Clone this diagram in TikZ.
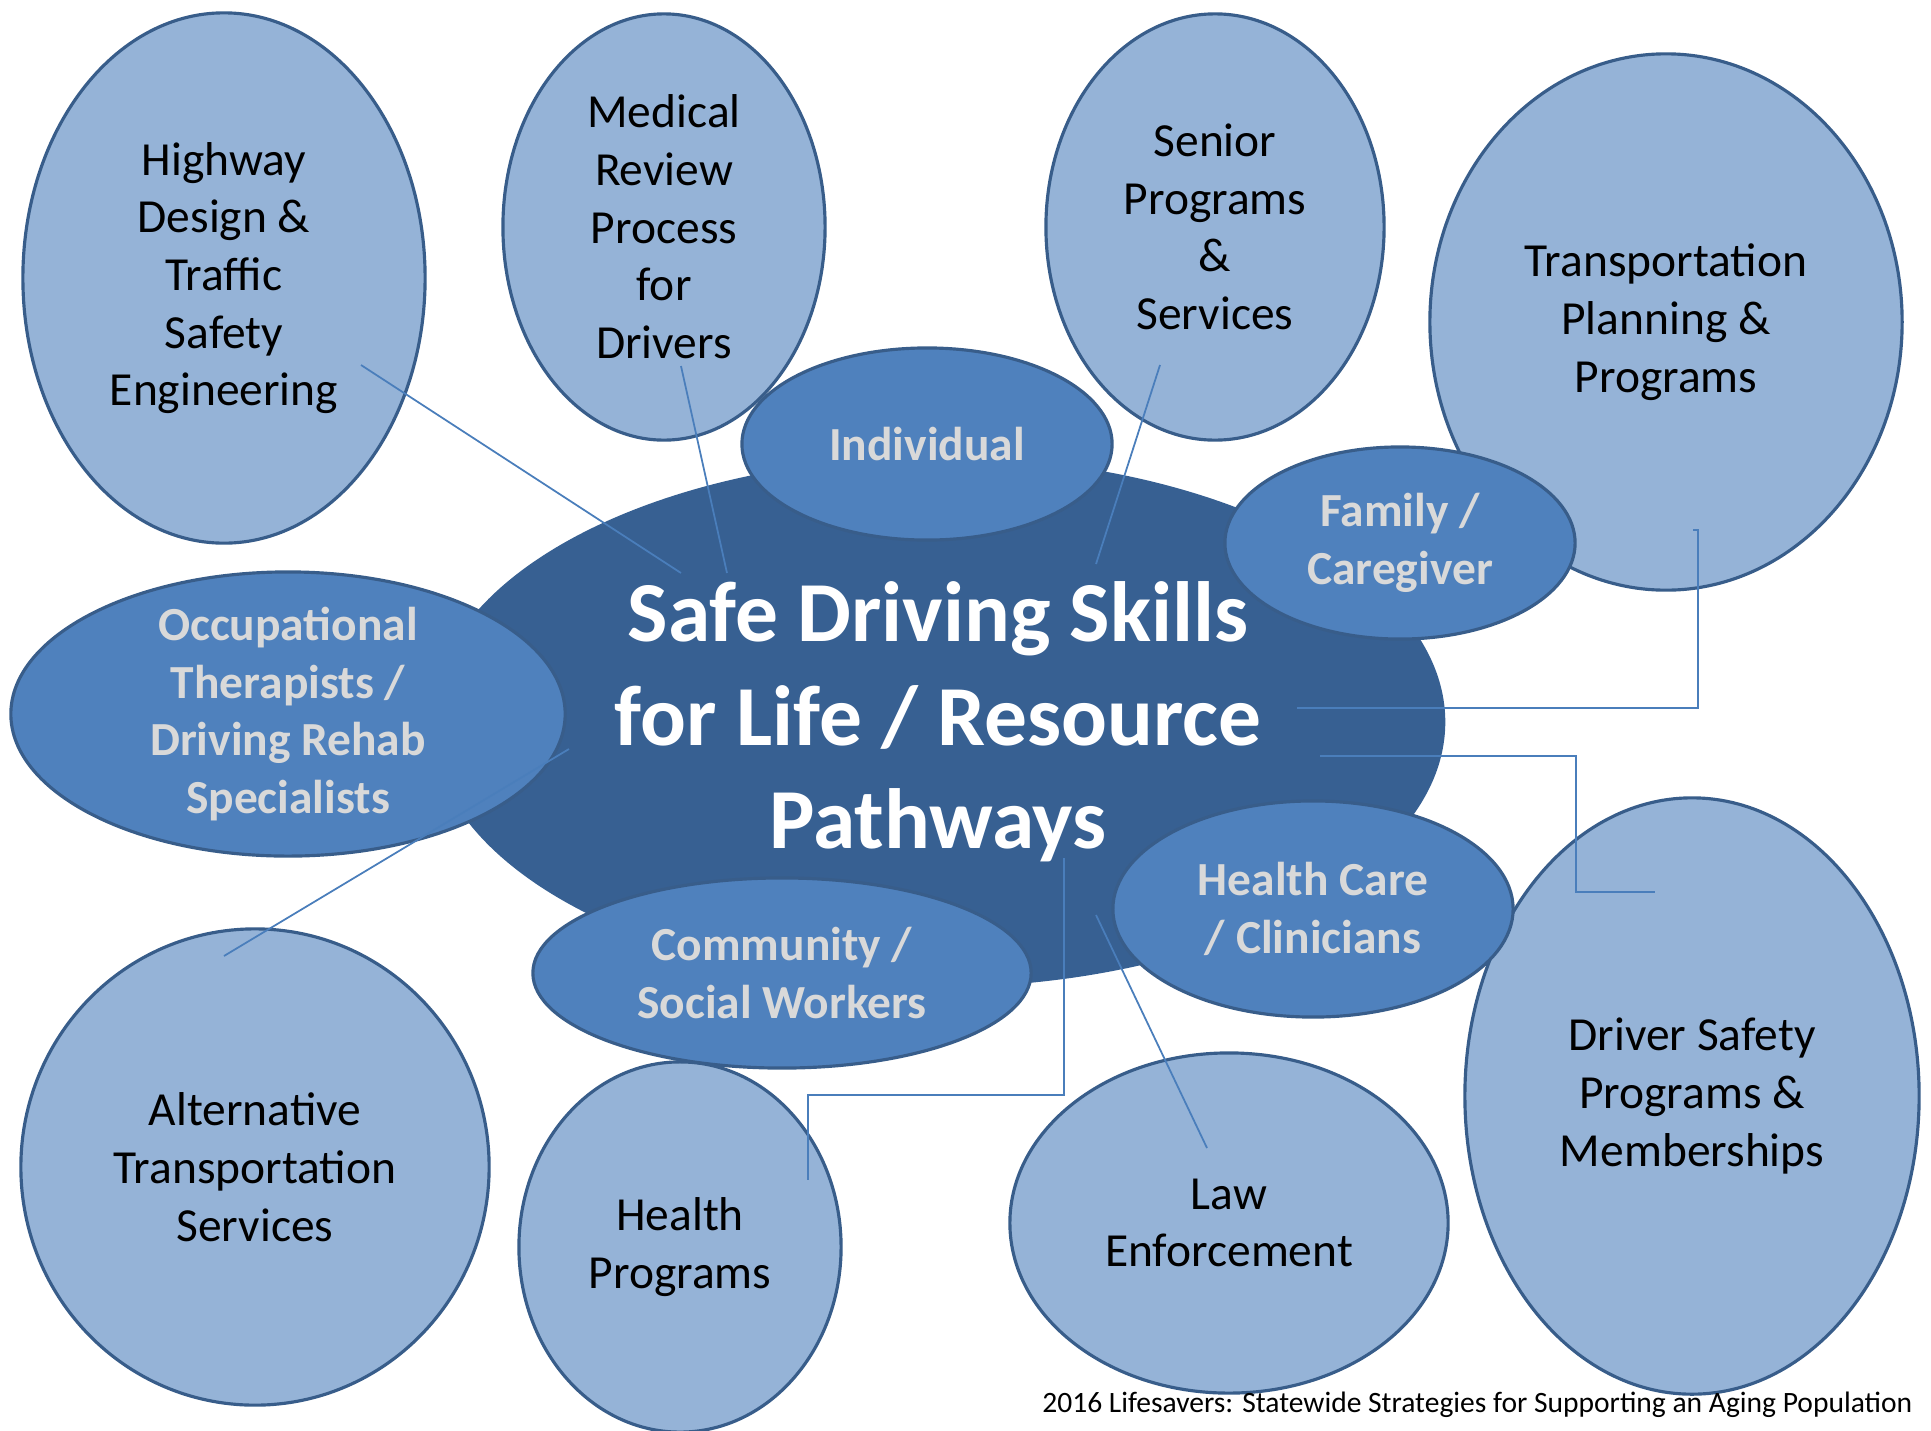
\documentclass[tikz,border=0pt]{standalone}
\usepackage{fontspec}
\setmainfont{Carlito}
\usetikzlibrary{shapes.geometric}

\definecolor{hubBlue}{HTML}{376092}
\definecolor{midBlue}{HTML}{4F81BD}
\definecolor{lineBlue}{HTML}{4A7EBB}
\definecolor{lightBlue}{HTML}{95B3D7}
\definecolor{rimBlue}{HTML}{385D8A}
\definecolor{paleGrey}{HTML}{D9D9D9}

\begin{document}
\begin{tikzpicture}
[x=0.01cm,y=-0.01cm,
  outerDecorate/.style={shape=ellipse,draw=rimBlue,fill=lightBlue,line width=0.9pt,
    inner sep=0pt,align=center,font=\fontsize{13.5}{16.4}\selectfont},
  innerDecorate/.style={shape=ellipse,draw=rimBlue,fill=midBlue,line width=0.9pt,
    inner sep=0pt,inner ysep=-4pt,align=center,text=paleGrey,
    font=\fontsize{13.5}{16.4}\selectfont\bfseries},
  hubDecorate/.style={shape=ellipse,fill=hubBlue,inner sep=0pt,align=center,
    text=white,font=\fontsize{24.3}{29.4}\selectfont\bfseries},
  lineDecorate/.style={-,draw=lineBlue,line width=0.5pt}]
\useasboundingbox (0,0) rectangle (1931,1430);
%% outer resources
\foreach \nodename/\x/\y/\w/\h/\txt in {
  hwy/224/278/4.02/5.30/{Highway\\Design \&\\Traffic\\Safety\\Engineering},
  med/664/227/3.22/4.26/{Medical\\Review\\Process\\for\\Drivers},
  sen/1215/227/3.38/4.26/{Senior\\Programs\\\&\\Services},
  trn/1666/322/4.72/5.36/{Transportation\\Planning \&\\Programs},
  alt/255/1167/4.68/4.76/{Alternative\\Transportation\\Services},
  hpr/680/1247/3.22/3.70/{Health\\Programs},
  law/1229/1223/4.38/3.40/{Law\\Enforcement},
  drv/1692/1096/4.54/5.96/{Driver Safety\\Programs \&\\Memberships}}
{
  \node (\nodename) at (\x,\y) [outerDecorate,minimum width=\w cm,minimum height=\h cm] {\txt};
}
%% hub
\node (hub) at (938,722) [hubDecorate,minimum width=10.14cm,minimum height=5.30cm]
  {Safe Driving Skills\\for Life / Resource\\Pathways};
%% groups around the hub
\foreach \nodename/\x/\y/\w/\h/\txt in {
  ind/927/444/3.70/1.92/{Individual},
  fam/1400/543/3.50/1.92/{Family /\\Caregiver},
  occ/288/714/5.54/2.84/{Occupational\\Therapists /\\Driving Rehab\\Specialists},
  hcc/1313/909/4.00/2.16/{Health Care\\/ Clinicians},
  com/782/973/4.98/1.90/{Community /\\Social Workers}}
{
  \node (\nodename) at (\x,\y) [innerDecorate,minimum width=\w cm,minimum height=\h cm] {\txt};
}
%% line ends
\foreach \ptname/\x/\y in {
  hwy-a/361/365, hwy-b/681/573,
  med-a/681/366, med-b/727/573,
  sen-a/1160/365, sen-b/1096/564,
  trn-a/1297/708, trn-b/1698/530,
  drv-a/1320/756, drv-b/1655/892,
  alt-a/569/749, alt-b/224/956,
  hpr-a/1064/858, hpr-b/808/1180,
  law-a/1096/915, law-b/1207/1148}
{
  \coordinate (\ptname) at (\x,\y);
}
\draw[lineDecorate] (hwy-a) -- (hwy-b);
\draw[lineDecorate] (med-a) -- (med-b);
\draw[lineDecorate] (sen-a) -- (sen-b);
\draw[lineDecorate] (trn-a) -| (trn-b) -- ++(-5,0);
\draw[lineDecorate] (drv-a) -- ++(256,0) |- (drv-b);
\draw[lineDecorate] (alt-a) -- (alt-b);
\draw[lineDecorate] (hpr-a) -- ++(0,237) -| (hpr-b);
\draw[lineDecorate] (law-a) -- (law-b);
%% source
\node (credit) at (1913,1405) [anchor=east,inner sep=0pt,font=\fontsize{8.4}{10}\selectfont]
  {2016 Lifesavers: Statewide Strategies for Supporting an Aging Population};
\end{tikzpicture}
\end{document}
